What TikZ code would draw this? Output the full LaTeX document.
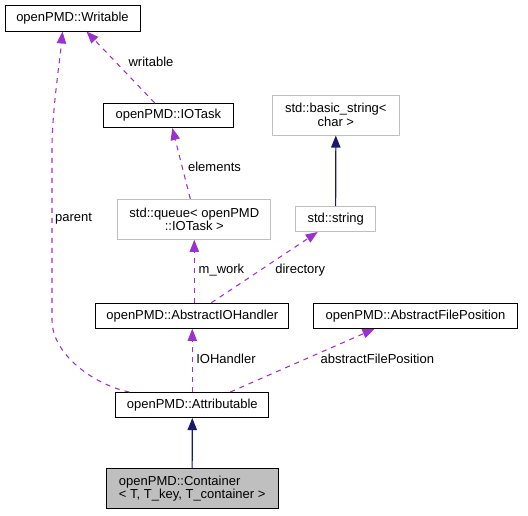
\documentclass[tikz,border=0pt]{standalone}
\usepackage{fontspec}
\setmainfont{Liberation Sans}
\usepackage{xcolor}
\usepackage{tikz}
\usetikzlibrary{arrows.meta, calc}
\definecolor{edgepurple}{HTML}{9A32CD}
\definecolor{edgenavy}{HTML}{191970}
\definecolor{boxgray}{HTML}{BFBFBF}

\begin{document}
\begin{tikzpicture}[
  x=0.75pt, y=-0.75pt,
  font=\fontsize{9.75}{10}\selectfont,
  cls/.style={rectangle, draw=black, line width=0.75pt, inner sep=0pt, align=center},
  ext/.style={cls, draw=boxgray},
  boxsize/.style 2 args={minimum width=#1*0.75pt, minimum height=#2*0.75pt},
  dep/.style={-{Triangle[length=9pt, width=7pt]}, edgepurple, line width=0.8pt, dash pattern=on 3.75pt off 3.75pt},
  inh/.style={-{Triangle[length=9pt, width=7pt]}, edgenavy, line width=0.8pt},
  lbl/.style={inner sep=0pt}
]
  \useasboundingbox (0,0) rectangle (528,515);

  % classes
  \node[cls, boxsize={135}{26}] (writable) at (72.5,18) {openPMD::Writable};
  \node[cls, boxsize={130}{24}] (iotask) at (168.3,115.5) {openPMD::IOTask};
  \node[ext, boxsize={127}{40}] (basicstr) at (335.8,115) {std::basic\_string<\\char >};
  \node[ext, boxsize={80}{25}] (stdstr) at (335.7,219) {std::string};
  \node[ext, boxsize={153}{40}] (queue) at (194.3,219.3) {std::queue< openPMD\\::IOTask >};
  \node[cls, boxsize={193}{25}] (ioh) at (192.3,315.8) {openPMD::AbstractIOHandler};
  \node[cls, boxsize={204}{25}] (afp) at (415.5,315.8) {openPMD::AbstractFilePosition};
  \node[cls, boxsize={153}{25}] (attr) at (192.3,405) {openPMD::Attributable};
  \node[cls, boxsize={172}{40}, fill=boxgray, align=left] (container) at (192.2,488.3)
    {openPMD::Container\\< T, T\_key, T\_container >};

  % members
  \draw[dep] ($(attr.north west)+(14,0)$) .. controls (95,385) and (52,355) .. (52,320)
    -- (52,150) .. controls (52,110) and (60,60) .. ($(writable.south west)+(58,0)$);
  \draw[dep] ($(iotask.north west)+(52,0)$) -- ($(writable.south west)+(82,0)$);
  \draw[dep] ($(queue.north)+(-4,0)$) -- ($(iotask.south)+(4,0)$);
  \draw[dep] ($(ioh.north)+(2,0)$) -- (queue.south);
  \draw[dep] ($(ioh.north)+(19,0)$) -- ($(stdstr.south)+(-18,0)$);
  \draw[dep] (attr.north) -- (ioh.south);
  \draw[dep] ($(attr.north)+(38,0)$) -- ($(afp.south)+(-41,0)$);

  % inheritance
  \draw[inh] (stdstr.north) -- (basicstr.south);
  \draw[inh] (container.north) -- (attr.south);

  % edge labels
  \node[lbl] (l-parent) at (73.5,219) {parent};
  \node[lbl] (l-writable) at (151,62) {writable};
  \node[lbl] (l-elements) at (214.5,166.5) {elements};
  \node[lbl] (l-mwork) at (221.5,270.5) {m\_work};
  \node[lbl] (l-directory) at (300.3,270.5) {directory};
  \node[lbl] (l-ioh) at (226,359.3) {IOHandler};
  \node[lbl] (l-afp) at (377.3,359.3) {abstractFilePosition};
\end{tikzpicture}
\end{document}
